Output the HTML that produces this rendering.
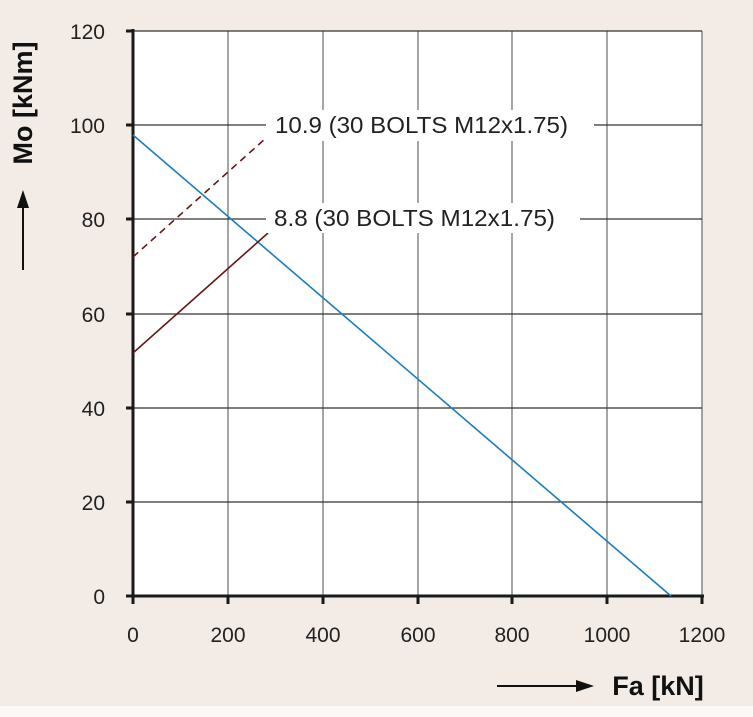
<!DOCTYPE html><html><head><style>body{margin:0;background:#f3ebe5}svg{display:block}text{font-family:"Liberation Sans",Arial,sans-serif}</style></head><body>
<svg width="753" height="717" viewBox="0 0 753 717">
<rect width="753" height="706" fill="#f3ebe5"/><rect y="706" width="753" height="11" fill="#fbf8f6"/>
<rect x="133" y="31" width="569" height="565" fill="#fff"/>
<g stroke="#6a6a6a" stroke-width="1.2">
<line x1="228" y1="31" x2="228" y2="596"/><line x1="323" y1="31" x2="323" y2="596"/><line x1="418" y1="31" x2="418" y2="596"/><line x1="512" y1="31" x2="512" y2="596"/><line x1="607" y1="31" x2="607" y2="596"/><line x1="702" y1="31" x2="702" y2="596"/>
</g>
<g stroke="#333" stroke-width="1.2">
<line x1="133" y1="31" x2="702" y2="31"/><line x1="133" y1="125" x2="702" y2="125"/><line x1="133" y1="219" x2="702" y2="219"/><line x1="133" y1="314" x2="702" y2="314"/><line x1="133" y1="408" x2="702" y2="408"/><line x1="133" y1="502" x2="702" y2="502"/>
</g>
<g stroke="#1a1a1a" stroke-width="3">
<line x1="133" y1="29" x2="133" y2="598"/><line x1="131" y1="596" x2="704" y2="596"/>
<line x1="126" y1="31" x2="133" y2="31"/><line x1="126" y1="125" x2="133" y2="125"/><line x1="126" y1="219" x2="133" y2="219"/><line x1="126" y1="314" x2="133" y2="314"/><line x1="126" y1="408" x2="133" y2="408"/><line x1="126" y1="502" x2="133" y2="502"/><line x1="126" y1="596" x2="133" y2="596"/>
<line x1="133" y1="596" x2="133" y2="604"/><line x1="228" y1="596" x2="228" y2="604"/><line x1="323" y1="596" x2="323" y2="604"/><line x1="418" y1="596" x2="418" y2="604"/><line x1="512" y1="596" x2="512" y2="604"/><line x1="607" y1="596" x2="607" y2="604"/><line x1="702" y1="596" x2="702" y2="604"/>
</g>
<line x1="133" y1="135" x2="671" y2="596" stroke="#1a7fc0" stroke-width="1.6"/>
<line x1="133" y1="257" x2="266" y2="138" stroke="#6a1515" stroke-width="1.6" stroke-dasharray="7,5"/>
<line x1="133" y1="353" x2="268" y2="233" stroke="#6a1515" stroke-width="1.6"/>
<rect x="266" y="110" width="328" height="31" fill="#fff"/>
<rect x="266" y="203" width="314" height="30" fill="#fff"/>
<text x="275" y="133" font-size="23" fill="#222" textLength="293" lengthAdjust="spacingAndGlyphs">10.9 (30 BOLTS M12x1.75)</text>
<text x="274" y="226" font-size="23" fill="#222" textLength="281" lengthAdjust="spacingAndGlyphs">8.8 (30 BOLTS M12x1.75)</text>
<g font-size="21" fill="#222" text-anchor="end">
<text x="105" y="39">120</text><text x="105" y="133">100</text><text x="105" y="227">80</text><text x="105" y="322">60</text><text x="105" y="416">40</text><text x="105" y="510">20</text><text x="105" y="604">0</text>
</g>
<g font-size="21" fill="#222" text-anchor="middle">
<text x="133" y="642">0</text><text x="228" y="642">200</text><text x="323" y="642">400</text><text x="418" y="642">600</text><text x="512" y="642">800</text><text x="607" y="642">1000</text><text x="702" y="642">1200</text>
</g>
<text x="658" y="695" font-size="27" font-weight="bold" fill="#111" text-anchor="middle">Fa [kN]</text>
<line x1="497" y1="686" x2="578" y2="686" stroke="#111" stroke-width="2"/><polygon points="594,686 576,680 576,692" fill="#111"/>
<text transform="translate(32,103) rotate(-90)" font-size="27" font-weight="bold" fill="#111" text-anchor="middle">Mo [kNm]</text>
<line x1="23" y1="270" x2="23" y2="205" stroke="#111" stroke-width="2"/><polygon points="23,190 17,208 29,208" fill="#111"/>
</svg></body></html>
